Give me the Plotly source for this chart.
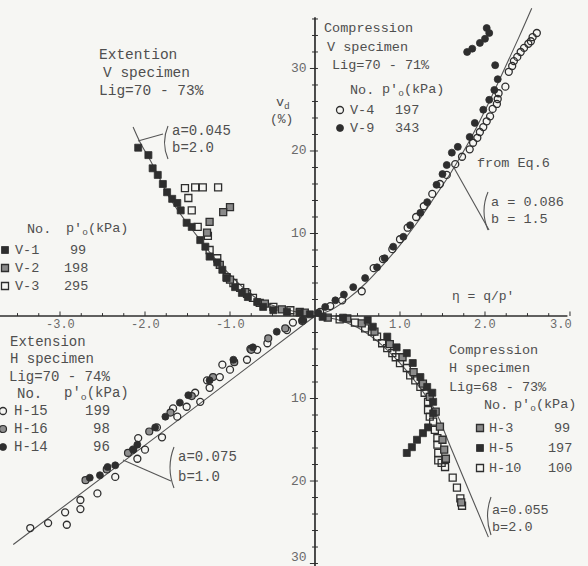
import plotly.graph_objects as go

# ---------------- data: eta = q/p' (negative = extension), v_d in % ----------------
# Compression, V specimen (upper right)
v4_eta = [2.61, 2.56, 2.54, 2.51, 2.46, 2.42, 2.38, 2.34, 2.32, 2.28, 2.24, 2.16, 2.15, 2.14,
          2.09, 2.06, 2.02, 1.98, 1.94, 1.91, 1.86, 1.82, 1.73, 1.65, 1.55, 1.47, 1.38, 1.28,
          1.19, 1.09, 1.00, 0.91, 0.80, 0.69, 0.55, 0.32, 0.18, 0.06]
v4_vd = [34.3, 33.8, 33.3, 33.0, 32.5, 32.0, 31.4, 30.9, 30.3, 29.6, 27.8, 27.0, 26.3, 25.7,
         25.1, 24.2, 23.6, 22.9, 22.3, 21.6, 21.0, 20.2, 19.3, 18.4, 17.1, 16.0, 14.8, 13.3,
         12.0, 10.7, 9.3, 8.1, 6.9, 5.8, 3.0, 1.9, 1.2, 0.5]
v9_eta = [2.02, 2.05, 2.00, 1.94, 1.85, 1.79, 2.12, 2.15, 2.11, 2.05, 1.98, 1.88, 1.82, 1.68,
          1.61, 1.55, 1.50, 1.43, 1.32, 1.24, 1.12, 1.04, 0.92, 0.82, 0.73, 0.59, 0.45, 0.34,
          0.24, 0.12, 0.04]
v9_vd = [34.9, 34.3, 33.6, 33.1, 32.4, 32.0, 30.4, 28.7, 27.4, 26.2, 25.0, 23.4, 21.7, 20.5,
         19.8, 18.3, 17.2, 15.9, 13.8, 12.5, 11.0, 9.6, 8.4, 7.0, 5.9, 4.6, 3.5, 2.6,
         1.9, 1.1, 0.4]
cv_eq_eta = [0, 0.2, 0.4, 0.6, 0.8, 1.0, 1.2, 1.4, 1.6, 1.8, 2.0, 2.2, 2.4, 2.55]
cv_eq_vd = [0, 0.8, 2.2, 4.0, 6.2, 8.6, 11.3, 14.3, 17.4, 20.9, 24.9, 29.3, 33.8, 37.3]

# Extension, V specimen (upper left)
v1_eta = [-2.08, -1.96, -1.91, -1.85, -1.79, -1.74, -1.68, -1.62, -1.58, -1.51, -1.45, -1.35,
          -1.29, -1.24, -1.15, -1.09, -1.04, -0.94, -0.86, -0.79, -0.68, -0.61, -0.49, -0.33,
          -0.18, -0.06]
v1_vd = [20.4, 19.5, 17.9, 17.1, 16.0, 15.0, 14.2, 13.7, 12.8, 11.3, 10.8, 9.2, 8.4, 7.2,
         6.5, 5.6, 4.6, 3.5, 2.8, 2.3, 1.7, 1.1, 0.7, 0.5, 0.4, 0.2]
v2_eta = [-1.00, -1.08, -1.24, -1.27, -1.12, -1.00, -0.82, -0.59, -0.39, -0.12]
v2_vd = [13.2, 12.6, 11.4, 10.1, 6.2, 4.4, 2.9, 1.5, 0.8, 0.4]
v3_eta = [-1.53, -1.41, -1.32, -1.14, -1.49, -1.45, -1.38, -1.26, -1.24, -1.15, -1.04, -0.96,
          -0.88, -0.80, -0.73, -0.65, -0.49, -0.29, -0.18]
v3_vd = [15.5, 15.6, 15.6, 15.6, 14.3, 12.8, 10.8, 9.7, 8.0, 7.0, 4.7, 4.0, 3.4, 2.7, 2.2,
         1.6, 1.1, 0.7, 0.5]
ev_eq_eta = [0, -0.18, -0.41, -0.65, -0.82, -1.00, -1.18, -1.35, -1.53, -1.71, -1.82, -1.94,
             -2.06, -2.14]
ev_eq_vd = [0, 0.4, 1.0, 1.9, 3.2, 5.0, 7.0, 9.2, 11.6, 14.3, 16.5, 18.9, 21.1, 22.9]

# Extension, H specimen (lower left; v_d plotted downward)
h15_eta = [-3.35, -3.14, -2.92, -2.94, -2.76, -2.76, -2.56, -2.35, -2.09, -2.00, -2.14, -2.08,
           -1.80, -1.86, -1.62, -1.67, -1.51, -1.35, -1.41, -1.24, -1.27, -1.12, -1.00, -1.09,
           -0.80, -0.76, -0.68, -0.56, -0.33, -0.26, -0.14]
h15_vd = [-25.7, -25.1, -25.3, -23.8, -23.4, -22.3, -21.5, -19.5, -17.3, -16.2, -16.2, -14.8,
          -14.7, -13.5, -12.2, -11.2, -11.0, -10.4, -9.3, -8.7, -7.8, -7.4, -6.5, -5.9,
          -5.3, -4.0, -4.1, -3.3, -1.7, -0.8, -0.5]
h16_eta = [-2.70, -2.45, -2.20, -1.95, -1.70, -1.45, -1.20, -0.95, -0.75, -0.55, -0.35, -0.15]
h16_vd = [-19.9, -18.6, -16.6, -14.0, -11.7, -9.7, -7.4, -5.6, -4.1, -2.7, -1.5, -0.6]
h14_eta = [-2.65, -2.53, -2.44, -2.35, -2.14, -2.09, -1.88, -1.76, -1.59, -1.49, -1.24, -0.96,
           -0.73, -0.45, -0.15]
h14_vd = [-19.6, -19.3, -18.3, -18.1, -16.2, -15.6, -13.5, -12.2, -10.5, -9.6, -7.8, -5.3,
          -3.8, -1.9, -0.5]
eh_eq_eta = [0, -1.8, -3.55]
eh_eq_vd = [0, -14.1, -27.7]

# Compression, H specimen (lower right; v_d plotted downward)
h3_eta = [0.15, 0.38, 0.55, 0.70, 0.88, 1.03, 1.16, 1.27, 1.35, 1.42, 1.47, 1.50, 1.52, 1.54, 1.72]
h3_vd = [-0.2, -0.3, -0.9, -1.9, -3.4, -5.0, -6.8, -8.2, -9.8, -11.6, -13.4, -15.0, -16.2,
         -17.3, -22.6]
h5_eta = [0.09, 0.33, 0.62, 0.68, 0.85, 0.96, 1.08, 1.15, 1.24, 1.32, 1.38, 1.39, 1.39, 1.33,
          1.27, 1.20, 1.14, 1.08]
h5_vd = [-0.1, -0.2, -0.5, -1.3, -2.5, -3.8, -4.5, -5.7, -7.4, -8.6, -9.3, -10.4, -11.8,
         -13.5, -14.2, -15.0, -15.9, -16.6]
h10_eta = [0.29, 0.47, 0.59, 0.67, 0.73, 0.79, 0.85, 0.91, 0.95, 1.00, 1.08, 1.12, 1.18, 1.24,
           1.29, 1.33, 1.33, 1.35, 1.39, 1.41, 1.44, 1.44, 1.45, 1.45, 1.49, 1.53, 1.62, 1.67,
           1.71, 1.73]
h10_vd = [-0.4, -0.8, -1.5, -1.9, -2.5, -3.3, -3.9, -4.5, -5.0, -5.7, -6.3, -7.2, -7.8, -8.6,
          -9.3, -10.4, -11.4, -12.2, -12.8, -13.8, -14.8, -15.6, -16.6, -17.5, -17.8, -18.3,
          -19.6, -20.8, -22.1, -23.0]
ch_eq_eta = [0, 0.25, 0.5, 0.75, 1.0, 1.2, 1.41, 1.6, 1.8, 2.04]
ch_eq_vd = [0, -0.4, -1.4, -3.2, -5.7, -8.2, -11.4, -16.0, -20.9, -26.8]

# axis ticks
x_tick_vals = [-3.0, -2.0, -1.0, 1.0, 2.0, 3.0]
x_tick_text = ["-3.0", "-2.0", "-1.0", "1.0", "2.0", "3.0"]
y_tick_vals = [30, 20, 10, -10, -20, -30]
y_tick_text = ["30", "20", "10", "10", "20", "30"]

# ---------------- styling ----------------
W, H = 588, 566
X_RANGE = [-3.706, 3.212]
Y_RANGE = [-30.30, 38.30]
INK = "#2e2e2e"
TXT = "#4f4f4f"
BG = "#f6f6f3"
FONT = "Liberation Mono, DejaVu Sans Mono, monospace"

MK = {
    "open_c": dict(symbol="circle-open", size=7, color=INK, line=dict(width=1.3, color=INK)),
    "fill_c": dict(symbol="circle", size=7, color=INK, line=dict(width=0.8, color=INK)),
    "half_c": dict(symbol="circle", size=7, color="#8e8e8e", line=dict(width=1.2, color=INK)),
    "open_s": dict(symbol="square-open", size=7, color=INK, line=dict(width=1.3, color=INK)),
    "fill_s": dict(symbol="square", size=7, color=INK, line=dict(width=0.8, color=INK)),
    "half_s": dict(symbol="square", size=7, color="#8a8a8a", line=dict(width=1.3, color=INK)),
}

fig = go.Figure()


def curve(xs, ys):
    fig.add_trace(go.Scatter(x=xs, y=ys, mode="lines", line=dict(color="#555555", width=1.1),
                             line_shape="spline", hoverinfo="skip", showlegend=False))


def points(xs, ys, kind):
    fig.add_trace(go.Scatter(x=xs, y=ys, mode="markers", marker=MK[kind],
                             hoverinfo="skip", showlegend=False))


curve(cv_eq_eta, cv_eq_vd)
curve(ev_eq_eta, ev_eq_vd)
curve(eh_eq_eta, eh_eq_vd)
curve(ch_eq_eta, ch_eq_vd)

points(v4_eta, v4_vd, "open_c")
points(v9_eta, v9_vd, "fill_c")
points(v3_eta, v3_vd, "open_s")
points(v2_eta, v2_vd, "half_s")
points(v1_eta, v1_vd, "fill_s")
points(h15_eta, h15_vd, "open_c")
points(h16_eta, h16_vd, "half_c")
points(h14_eta, h14_vd, "fill_c")
points(h10_eta, h10_vd, "open_s")
points(h3_eta, h3_vd, "half_s")
points(h5_eta, h5_vd, "fill_s")

shapes = []
# axes crossing at the origin
shapes.append(dict(type="line", xref="x", yref="y", x0=X_RANGE[0], x1=2.97, y0=0, y1=0,
                   line=dict(color=INK, width=1.7)))
shapes.append(dict(type="line", xref="x", yref="y", x0=0, x1=0, y0=Y_RANGE[0], y1=36.2,
                   line=dict(color=INK, width=1.7)))
# small tick marks
k = -14
while k <= 12:
    t = k * 0.25
    if k != 0:
        h = 0.55 if k % 4 == 0 else 0.35
        shapes.append(dict(type="line", xref="x", yref="y", x0=t, x1=t, y0=0, y1=h,
                           line=dict(color=INK, width=1)))
    k += 1
for v in range(-30, 37, 2):
    if v == 0:
        continue
    w = 0.06 if v % 10 == 0 else 0.035
    shapes.append(dict(type="line", xref="x", yref="y", x0=-w, x1=0.035, y0=v, y1=v,
                       line=dict(color=INK, width=1)))

# leader lines and brackets (pixel space overlay)
def seg(x0, y0, x1, y1):
    shapes.append(dict(type="line", xref="x2", yref="y2", x0=x0, y0=y0, x1=x1, y1=y1,
                       line=dict(color="#555555", width=1.1)))


def brace(x, y0, y1, bulge):
    ym = (y0 + y1) / 2
    shapes.append(dict(type="path", xref="x2", yref="y2",
                       path=f"M {x},{y0} Q {x - bulge},{ym} {x},{y1}",
                       line=dict(color="#555555", width=1.1)))


seg(138, 141, 163, 134)
brace(168, 126, 159, 7)
seg(453, 166, 489, 230)
brace(488, 192, 230, 8)
seg(123, 460, 171, 481)
brace(174, 447, 488, 8)
brace(491, 497, 535, 7)

annotations = []


def text(x, y, s, size=13.5, anchor="left", color=TXT):
    annotations.append(dict(xref="x2", yref="y2", x=x, y=y, text=s, showarrow=False,
                            xanchor=anchor, yanchor="middle",
                            font=dict(family=FONT, size=size, color=color)))


# tick labels
for v, s in zip(x_tick_vals, x_tick_text):
    annotations.append(dict(xref="x", yref="y", x=v, y=0, text=s, showarrow=False,
                            xanchor="center", yanchor="top", yshift=0,
                            xshift=-9 if v == 3.0 else 0,
                            font=dict(family=FONT, size=12, color="#6a6a6a")))
for v, s in zip(y_tick_vals, y_tick_text):
    annotations.append(dict(xref="x", yref="y", x=0, y=v, text=s, showarrow=False,
                            xanchor="right", yanchor="middle", xshift=-6,
                            yshift=6 if v == -30 else 0,
                            font=dict(family=FONT, size=13, color="#6a6a6a")))

# axis titles
text(274, 103, "v<sub>d</sub>", 13.5)
text(268, 119, "(%)", 13)
text(450, 296, "η = q/p'", 13)

# Extension, V specimen
text(97, 55, "Extention", 14.5)
text(101, 73, "V specimen", 14.5)
text(97, 91, "Lig=70 - 73%", 14.5)
text(170, 131, "a=0.045", 14)
text(170, 148, "b=2.0", 14)
text(25, 229, "No.", 13.5)
text(64, 229, "p'<sub>o</sub>(kPa)", 13.5)
text(13, 250, "V-1", 13.5)
text(88, 250, "99", 13.5, "right")
text(13, 268, "V-2", 13.5)
text(90, 268, "198", 13.5, "right")
text(13, 286, "V-3", 13.5)
text(90, 286, "295", 13.5, "right")

# Compression, V specimen
text(322, 28, "Compression", 13.5)
text(325, 47, "V specimen", 13.5)
text(330, 65, "Lig=70 - 71%", 13.5)
text(348, 90, "No.", 13.5)
text(380, 90, "p'<sub>o</sub>(kPa)", 13.5)
text(348, 110, "V-4", 13.5)
text(421, 110, "197", 13.5, "right")
text(348, 128, "V-9", 13.5)
text(421, 128, "343", 13.5, "right")
text(475, 163, "from Eq.6", 13.5)
text(489, 202, "a = 0.086", 13.5)
text(489, 219, "b = 1.5", 13.5)

# Extension, H specimen
text(8, 342, "Extension", 14)
text(8, 359, "H specimen", 14)
text(7, 377, "Lig=70 - 74%", 14)
text(15, 394, "No.", 14)
text(62, 394, "p'<sub>o</sub>(kPa)", 14)
text(12, 411, "H-15", 14)
text(112, 411, "199", 14, "right")
text(12, 429, "H-16", 14)
text(112, 429, "98", 14, "right")
text(12, 447, "H-14", 14)
text(112, 447, "96", 14, "right")
text(176, 457, "a=0.075", 14)
text(176, 477, "b=1.0", 14)

# Compression, H specimen
text(447, 350, "Compression", 13.5)
text(447, 368, "H specimen", 13.5)
text(447, 387, "Lig=68 - 73%", 13.5)
text(482, 405, "No.", 13.5)
text(512, 405, "p'<sub>o</sub>(kPa)", 13.5)
text(487, 428, "H-3", 13.5)
text(572, 428, "99", 13.5, "right")
text(487, 448, "H-5", 13.5)
text(574, 448, "197", 13.5, "right")
text(487, 468, "H-10", 13.5)
text(574, 468, "100", 13.5, "right")
text(490, 510, "a=0.055", 13.5)
text(490, 527, "b=2.0", 13.5)

# legend keys (pixel space overlay)
keys = [
    (5, 250, "fill_s"), (5, 268, "half_s"), (5, 286, "open_s"),
    (340, 110, "open_c"), (340, 128, "fill_c"),
    (3, 411, "open_c"), (3, 429, "half_c"), (3, 447, "fill_c"),
    (480, 428, "half_s"), (480, 448, "fill_s"), (480, 468, "open_s"),
]
for kx, ky, kind in keys:
    fig.add_trace(go.Scatter(x=[kx], y=[ky], xaxis="x2", yaxis="y2", mode="markers",
                             marker=MK[kind], hoverinfo="skip", showlegend=False))

fig.update_layout(
    width=W, height=H, margin=dict(l=0, r=0, t=0, b=0),
    paper_bgcolor=BG, plot_bgcolor=BG, showlegend=False,
    xaxis=dict(range=X_RANGE, visible=False, fixedrange=True),
    yaxis=dict(range=Y_RANGE, visible=False, fixedrange=True),
    xaxis2=dict(range=[0, W], overlaying="x", visible=False, fixedrange=True),
    yaxis2=dict(range=[H, 0], overlaying="y", visible=False, fixedrange=True),
    shapes=shapes, annotations=annotations,
)

fig.write_html("out.html")
